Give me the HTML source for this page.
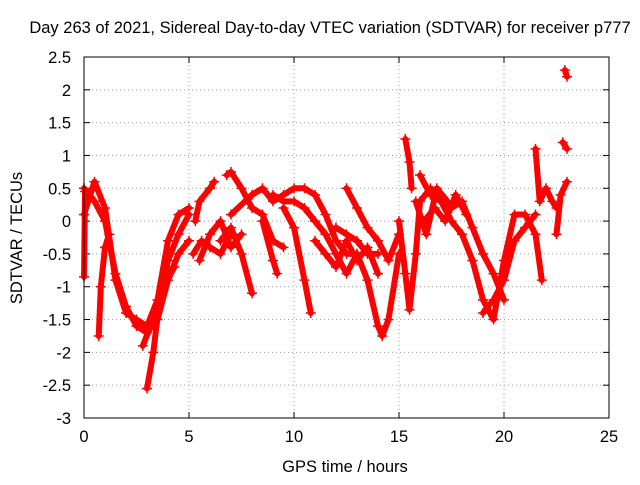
<!DOCTYPE html>
<html><head><meta charset="utf-8"><style>
body{margin:0;background:#fff;}
svg text{font-family:"Liberation Sans",sans-serif;font-size:16.5px;fill:#000;}
</style></head><body>
<svg id="chart" width="640" height="480" viewBox="0 0 640 480" xmlns="http://www.w3.org/2000/svg">
<rect width="640" height="480" fill="#fff"/>
<text x="330" y="33" text-anchor="middle">Day 263 of 2021, Sidereal Day-to-day VTEC variation (SDTVAR) for receiver p777</text>
<text x="345" y="472" text-anchor="middle">GPS time / hours</text>
<text transform="translate(22,238) rotate(-90)" text-anchor="middle">SDTVAR / TECUs</text>
<g id="grid"></g><g id="ticks"></g><g id="marks"></g>
<rect x="84" y="57" width="525" height="361" fill="none" stroke="#000" stroke-width="1"/>
</svg>
<script>
const xTicks=[0,5,10,15,20,25];
const yTicks=[2.5,2,1.5,1,0.5,0,-0.5,-1,-1.5,-2,-2.5,-3];
const trackA=[[0,0.5],[0.5,0.3],[1,0],[1.5,-0.8],[2,-1.3],[2.5,-1.6],[3,-1.7],[3.5,-1.5],[4,-0.9],[4.5,-0.5],[5,-0.3]];
const trackB=[[0.7,-1.75],[0.8,-1.0],[1.0,-0.4],[1.2,-0.2]];
const trackC=[[0,0.1],[0.5,0.6],[1,0.2],[1.5,-0.9],[2,-1.4],[2.5,-1.5],[3,-1.6],[3.5,-1.2],[4,-0.3],[4.5,0.1],[5,0.2]];
const trackD=[[3,-2.55],[3.3,-2.0],[3.6,-1.2],[4,-0.6],[4.5,-0.2],[5,0.1]];
const trackE=[[2.8,-1.9],[3.3,-1.5],[3.8,-1.0],[4.3,-0.7]];
const trackF=[[5.3,0],[5.5,0.3],[6,0.5],[6.2,0.6]];
const trackG=[[5.2,-0.5],[5.6,-0.3],[6,-0.4],[6.5,-0.5],[7,-0.2]];
const trackH=[[6.8,0.7],[7,0.75],[7.5,0.5],[8,0.2],[8.5,0.1],[9,-0.3],[9.5,-0.4]];
const trackI=[[6.5,-0.3],[7,-0.1],[7.5,-0.5],[8,-1.1]];
const trackJ=[[7,0.1],[8,0.4],[8.5,0.5],[9,0.3],[9.5,0.4],[10,0.5],[10.5,0.5],[11,0.4],[11.5,0.1],[12,-0.3],[12.5,-0.5],[13,-0.5],[13.5,-0.9],[14,-1.6],[14.2,-1.75],[14.5,-1.5],[15,-0.5]];
const trackK=[[9.5,0.2],[10,-0.1],[10.5,-0.9],[10.8,-1.4]];
const trackL=[[8.5,0],[9,-0.6],[9.2,-0.8]];
const trackM=[[9,0.4],[9.5,0.3],[10,0.3],[10.5,0.2],[11,0],[11.5,-0.2],[12,-0.5],[12.5,-0.8],[13,-0.5]];
const trackN=[[12.5,0.5],[13,0.2],[13.5,-0.1],[14,-0.3],[14.5,-0.6],[15,-0.2]];
const trackO=[[15.3,1.25],[15.5,0.9],[15.6,0.5]];
const trackP=[[15,0],[15.3,-0.8],[15.5,-1.35],[15.8,-0.5],[16,0.3],[16.5,0.5],[17,0.4],[17.5,0.2],[18,0.3],[18.5,-0.1],[19,-0.5],[19.5,-0.8],[20,-1.2]];
const trackQ=[[16,0.7],[16.5,0.4],[17,0.3],[17.5,0],[18,-0.2],[18.5,-0.6],[19,-1.2],[19.5,-1.5],[20,-0.6],[20.5,0.1],[21,0.1],[21.5,-0.2],[21.8,-0.9]];
const trackR=[[19,-1.4],[19.5,-1.2],[20,-0.9],[20.5,-0.3],[21,-0.1],[21.5,0.1]];
const trackS=[[21.5,1.1],[21.7,0.3],[22,0.5],[22.3,0.3],[22.5,0.2]];
const trackT=[[22.5,-0.2],[22.7,0.4],[23,0.6]];
const trackU=[[22.8,1.2],[23,1.1]];
const trackV=[[22.9,2.3],[23,2.2]];
const trackW=[[0,-0.85],[0.05,0.45]];
const trackX=[[5.5,-0.6],[6,-0.2],[6.5,0],[7,-0.4],[7.5,-0.2]];
const trackY=[[11,-0.3],[11.5,-0.5],[12,-0.7],[12.5,-0.3],[13,-0.6],[13.5,-0.4],[14,-0.8]];
const trackZ=[[12,-0.1],[12.5,-0.2],[13,-0.3],[13.5,-0.5],[14,-0.5]];
const trackAA=[[16.2,0],[16.7,0.2],[17.2,0],[17.7,0.4],[18.2,0.1]];
const trackAB=[[15.8,0.3],[16.3,-0.2],[16.8,0.5],[17.3,0.3]];
const tracks=[trackA,trackB,trackC,trackD,trackE,trackF,trackG,trackH,trackI,trackJ,trackK,trackL,trackM,trackN,trackO,trackP,trackQ,trackR,trackS,trackT,trackU,trackV,trackW,trackX,trackY,trackZ,trackAA,trackAB];

const X0=84,X1=609,Y0=418,Y1=57,xMin=0,xMax=25,yMin=-3,yMax=2.5;
function xs(v){return X0+(v-xMin)/(xMax-xMin)*(X1-X0);}
function ys(v){return Y0-(v-yMin)/(yMax-yMin)*(Y0-Y1);}
const NS="http://www.w3.org/2000/svg";
function mk(t,a,p){const e=document.createElementNS(NS,t);for(const k in a)e.setAttribute(k,a[k]);p.appendChild(e);return e;}
const grid=document.getElementById('grid'),ticks=document.getElementById('ticks'),marks=document.getElementById('marks');
xTicks.forEach(v=>{
 const x=xs(v);
 if(v>xMin&&v<xMax){const g=mk('line',{x1:x,x2:x,y1:Y1,y2:Y0,stroke:'#a0a0a0','stroke-dasharray':'1,3'},grid);
 
 }
 mk('line',{x1:x,x2:x,y1:Y0,y2:Y0-6,stroke:'#000'},ticks);
 mk('line',{x1:x,x2:x,y1:Y1,y2:Y1+6,stroke:'#000'},ticks);
 const t=mk('text',{x:x,y:Y0+24,'text-anchor':'middle'},ticks);t.textContent=v;
 
 
});
yTicks.forEach(v=>{
 const y=ys(v);
 if(v>yMin&&v<yMax){const g=mk('line',{x1:X0,x2:X1,y1:y,y2:y,stroke:'#a0a0a0','stroke-dasharray':'1,3'},grid);
 
 }
 mk('line',{x1:X0,x2:X0+6,y1:y,y2:y,stroke:'#000'},ticks);
 mk('line',{x1:X1,x2:X1-6,y1:y,y2:y,stroke:'#000'},ticks);
 const t=mk('text',{x:X0-13,y:y+6,'text-anchor':'end'},ticks);t.textContent=v;
 
 
});
tracks.forEach((tr,i)=>{
 const pts=tr.map(p=>xs(p[0])+','+ys(p[1])).join(' ');
 const pl=mk('polyline',{points:pts,fill:'none',stroke:'#ff0000','stroke-width':6,'stroke-linejoin':'round','stroke-linecap':'round'},marks);
 
 
 tr.forEach(p=>{
  const x=xs(p[0]),y=ys(p[1]);
  const m=mk('path',{d:`M${x-5},${y}H${x+5}M${x},${y-5}V${y+5}`,stroke:'#ff0000','stroke-width':1.5},marks);
  
  
 });
});
</script>
</body></html>
